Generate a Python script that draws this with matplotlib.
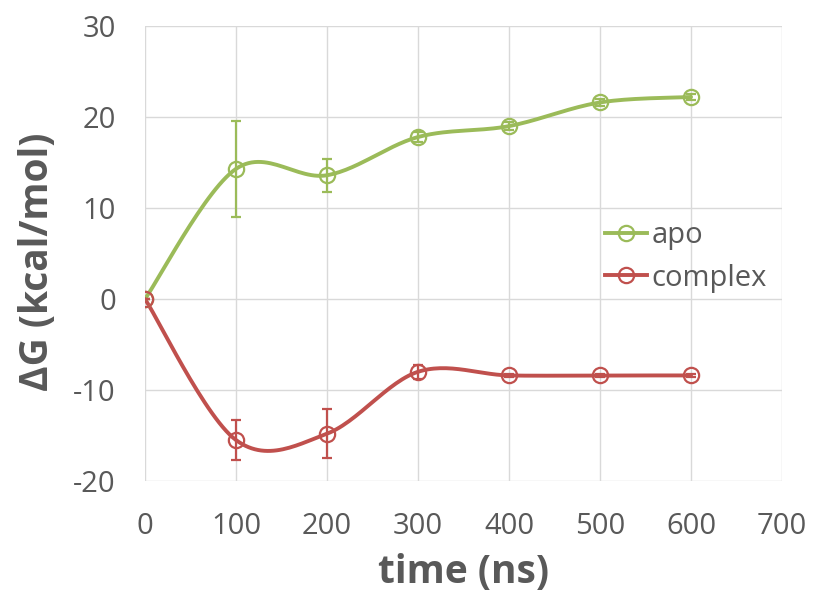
import numpy as np
import matplotlib
matplotlib.use("Agg")
import matplotlib.pyplot as plt
from matplotlib.lines import Line2D

plt.rcParams["axes.unicode_minus"] = False

time_ns = [0, 100, 200, 300, 400, 500, 600]
apo = [0, 14.3, 13.6, 17.8, 19.0, 21.6, 22.2]
apo_err = [0, 5.3, 1.8, 0.5, 0.4, 0.4, 0.3]
complex_ = [0, -15.5, -14.8, -8.0, -8.4, -8.4, -8.4]
complex_err = [0, 2.2, 2.7, 0.8, 0.2, 0.2, 0.2]

GREEN = "#9BBB59"
RED = "#C0504D"
TEXT = "#595959"
FONT = "Open Sans"


def smooth(x, y, n=30):
    # Excel-style smoothed line (Catmull-Rom through the points)
    x = np.asarray(x, float); y = np.asarray(y, float)
    px = np.concatenate([[x[0]], x, [x[-1]]])
    py = np.concatenate([[y[0]], y, [y[-1]]])
    xs, ys = [], []
    for i in range(1, len(px) - 2):
        p0 = np.array([px[i - 1], py[i - 1]]); p1 = np.array([px[i], py[i]])
        p2 = np.array([px[i + 1], py[i + 1]]); p3 = np.array([px[i + 2], py[i + 2]])
        c1 = p1 + (p2 - p0) / 6.0
        c2 = p2 - (p3 - p1) / 6.0
        t = np.linspace(0, 1, n)[:, None]
        b = (1 - t) ** 3 * p1 + 3 * (1 - t) ** 2 * t * c1 + 3 * (1 - t) * t ** 2 * c2 + t ** 3 * p2
        xs.extend(b[:, 0]); ys.extend(b[:, 1])
    return np.array(xs), np.array(ys)


fig = plt.figure(figsize=(8.15, 5.96), dpi=100)
ax = fig.add_axes([145 / 815, 1 - 481 / 596, (782 - 145) / 815, (481 - 26) / 596])

LW = 2.8
MS = 11
for y, e, c in [(apo, apo_err, GREEN), (complex_, complex_err, RED)]:
    sx, sy = smooth(time_ns, y)
    ax.plot(sx, sy, color=c, lw=LW, solid_capstyle="round", zorder=3)
    ax.errorbar(time_ns, y, yerr=e, fmt="none", ecolor=c, elinewidth=1.6, capsize=3.5, capthick=1.6, zorder=4)
    ax.plot(time_ns, y, "o", ms=MS, mfc="none", mec=c, mew=1.6, zorder=5)

ax.set_xlim(0, 700)
ax.set_ylim(-20, 30)
ax.set_xticks(range(0, 701, 100))
ax.set_yticks(range(-20, 31, 10))
ax.grid(True, color="#d9d9d9", lw=1)
ax.set_axisbelow(True)
for s in ax.spines.values():
    s.set_visible(False)
ax.tick_params(length=0, labelsize=21, colors=TEXT)
ax.tick_params(axis="y", pad=21)
ax.tick_params(axis="x", pad=22)
for lbl in ax.get_xticklabels() + ax.get_yticklabels():
    lbl.set_fontfamily(FONT)

ax.set_xlabel("time (ns)", fontsize=28, fontweight="bold", color=TEXT, family=FONT)
ax.set_ylabel("ΔG (kcal/mol)", fontsize=28, fontweight="bold", color=TEXT, family=FONT)
ax.xaxis.set_label_coords(0.5, -0.158)
ax.yaxis.set_label_coords(-0.138, 0.481)

handles = [Line2D([0], [0], color=GREEN, lw=LW, marker="o", ms=MS, mfc="none", mew=1.6),
           Line2D([0], [0], color=RED, lw=LW, marker="o", ms=MS, mfc="none", mew=1.6)]
leg = ax.legend(handles, ["apo", "complex"], loc="center left",
                bbox_to_anchor=((605 - 145) / 637, (481 - 257) / 455),
                frameon=False, handlelength=1.45, handletextpad=0.15, labelspacing=0.45,
                borderpad=0, borderaxespad=0,
                prop={"family": FONT, "size": 21})
for t in leg.get_texts():
    t.set_color(TEXT)

fig.savefig("out.png", dpi=100, facecolor="white")
